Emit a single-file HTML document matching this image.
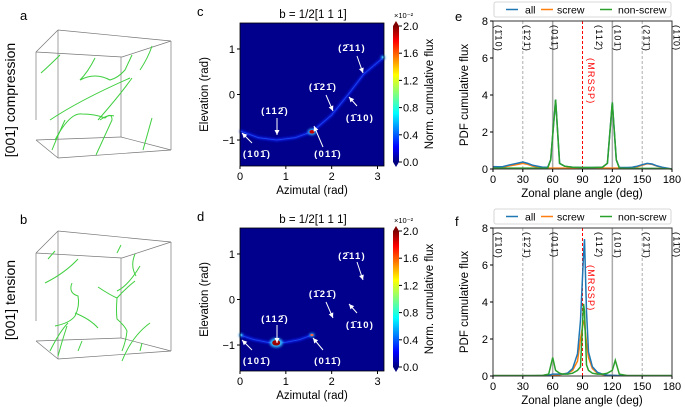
<!DOCTYPE html>
<html><head><meta charset="utf-8"><style>
body{margin:0;background:#fff;}
svg{display:block;font-family:"Liberation Sans","DejaVu Sans",sans-serif;}
</style></head><body>
<svg id="fig" width="685" height="407" viewBox="0 0 685 407" xmlns="http://www.w3.org/2000/svg">
<defs>
<linearGradient id="jet" x1="0" y1="1" x2="0" y2="0">
<stop offset="0" stop-color="#00007f"/><stop offset="0.11" stop-color="#0000ff"/><stop offset="0.36" stop-color="#00ffff"/><stop offset="0.5" stop-color="#7fff7f"/><stop offset="0.64" stop-color="#ffff00"/><stop offset="0.89" stop-color="#ff0000"/><stop offset="1" stop-color="#7f0000"/>
</linearGradient>
<filter id="glow" x="-20%" y="-20%" width="140%" height="140%"><feGaussianBlur stdDeviation="1"/></filter>
<filter id="glow2" x="-50%" y="-50%" width="200%" height="200%"><feGaussianBlur stdDeviation="1.2"/></filter>
</defs>
<g id="root"></g>
</svg>
<script>
// ---------- data ----------
const eAngles = [0,5,10,15,20,25,30,35,40,45,50,55,58,63,67,72,80,90,100,110,115,120,124,127,135,140,145,150,155,160,165,170,175,180];
const eScrew  = [0.1,0.1,0.1,0.15,0.2,0.25,0.3,0.25,0.15,0.1,0.05,0.05,0.05,0.05,0.05,0.05,0.05,0.05,0.05,0.05,0.05,0.05,0.05,0.05,0.05,0.08,0.12,0.2,0.28,0.25,0.15,0.08,0.03,0];
const eNon    = [0.05,0.05,0.05,0.05,0.05,0.05,0.05,0.05,0.05,0.05,0.05,0.05,0.5,3.75,0.3,0.15,0.1,0.08,0.08,0.1,0.3,3.6,0.5,0.05,0.03,0.03,0.03,0.03,0.03,0.03,0.03,0.02,0.02,0];
const eAll    = [0.13,0.12,0.13,0.2,0.26,0.32,0.38,0.3,0.2,0.15,0.1,0.1,0.5,3.75,0.3,0.15,0.1,0.08,0.08,0.1,0.3,3.6,0.5,0.08,0.08,0.1,0.15,0.23,0.3,0.27,0.17,0.1,0.05,0];
const fAngles = [0,10,20,30,40,50,56,60,63,67,70,75,80,85,88,91,92,94,96,100,105,110,115,120,123,127,135,145,155,165,180];
const fAll    = [0.02,0.02,0.02,0.02,0.02,0.02,0.05,0.1,0.1,0.1,0.1,0.15,0.4,1.2,3.0,6.5,7.4,3.5,1.3,0.5,0.2,0.1,0.05,0.03,0.03,0.02,0.02,0.02,0.02,0.02,0.02];
const fScrew  = [0.02,0.02,0.02,0.02,0.02,0.02,0.02,0.03,0.05,0.07,0.1,0.15,0.3,0.8,2.0,3.0,2.8,1.8,1.0,0.4,0.15,0.08,0.05,0.03,0.02,0.02,0.02,0.02,0.02,0.02,0.02];
const fNon    = [0.02,0.02,0.02,0.02,0.02,0.03,0.1,1.0,0.3,0.15,0.1,0.1,0.15,0.3,0.5,3.9,3.5,0.6,0.3,0.15,0.1,0.1,0.15,0.3,0.85,0.1,0.02,0.02,0.02,0.02,0.02];
const yTicks = [0,2,4,6,8];
const xTicksDeg = [0,30,60,90,120,150,180];
const cCurveAz = [0,0.4,0.8,1.2,1.57,2.0,2.36,2.7,3.14];
const cCurveEl = [-0.8,-0.95,-1.0,-0.95,-0.82,-0.45,0,0.45,0.82];
const dCurveAz = [0,0.3,0.6,0.79,1.0,1.3,1.57];
const dCurveEl = [-0.78,-0.88,-0.94,-0.95,-0.94,-0.88,-0.78];
const cbTicks = ["0.0","0.4","0.8","1.2","1.6","2.0"];
const azTicks = [0,1,2,3];
const elTicks = [-1,0,1];
// ---------- helpers ----------
const NS="http://www.w3.org/2000/svg";
const root=document.getElementById('root');
const BAR='\u0304';
function mk(tag,attrs,parent,text){const e=document.createElementNS(NS,tag);for(const k in attrs)e.setAttribute(k,attrs[k]);if(text!==undefined)e.textContent=text;(parent||root).appendChild(e);return e;}
function txt(x,y,s,size,parent,extra){const a=Object.assign({x:x,y:y,'font-size':size,fill:'#000'},extra||{});return mk('text',a,parent,s);}

// ---------- labels ----------
[['a',20,20],['b',20,224],['c',197,16],['d',197,221],['e',455,21],['f',455,226]].forEach(p=>{
  const t=txt(p[1],p[2],p[0],13);
  
  
});
{const t=txt(0,0,'[001] compression',14,null,{transform:'translate(15,100) rotate(-90)','text-anchor':'middle'});
}
{const t=txt(0,0,'[001] tension',14,null,{transform:'translate(15,300) rotate(-90)','text-anchor':'middle'});
}

// ---------- cubes ----------
function cube(dy,name,curves){
  const g=mk('g',{});
  
  
  const edges=[[58,30,171,41],[36,52,58,30],[58,30,58,158],[171,41,171,150],[36,52,36,120],[36,52,122,57],[122,57,171,41],[121,57,121,137],[36,140,58,158],[58,158,171,150],[36,140,121,137],[121,137,171,150]];
  edges.forEach(e=>mk('line',{x1:e[0],y1:e[1]+dy,x2:e[2],y2:e[3]+dy,stroke:'#777','stroke-width':0.7},g));
  curves.forEach(c=>mk('path',{d:c,transform:'translate(0,'+dy+')',fill:'none',stroke:'#3fcf3f','stroke-width':1},g));
}
cube(0,'cube-compression',['M41,73 Q50,65 60,55','M80,80 Q88,72 95,58','M80,80 Q95,72 110,80 Q118,78 125,70 L132,55','M140,70 Q148,58 152,46','M50,120 Q80,100 130,78','M98,120 Q120,95 132,78','M55,140 Q70,112 82,114 Q95,114 105,118 Q112,112 112,120 L96,155','M52,150 Q58,135 65,120','M143,150 L152,118','M100,120 Q108,114 114,116']);
cube(201,'cube-tension',['M48,58 L55,50','M45,82 Q65,72 78,58','M72,82 Q68,92 78,95 Q80,105 75,115 Q70,122 55,125','M75,112 Q90,118 98,127','M50,150 Q60,130 68,122','M58,155 Q62,140 67,125','M78,150 L82,140','M117,52 L121,44','M135,53 Q130,65 136,75','M98,86 Q110,94 117,97 Q116,110 117,118 Q125,125 127,130 Q126,140 122,150','M117,97 Q125,88 135,80','M117,90 Q128,85 140,65','M122,160 Q132,135 150,122','M140,150 L142,142']);

// ---------- heatmaps ----------
function heat(oy,prefix,curveAz,curveEl,spots,anns){
  const x0=240,x1=384,top=oy+23,bot=oy+166;
  const X=v=>x0+(v/Math.PI)*(x1-x0);
  const Y=v=>(top+bot)/2 - v*(bot-top)/Math.PI;
  const g=mk('g',{});
  
  
  mk('rect',{x:x0,y:top,width:x1-x0,height:bot-top,fill:'#00008c'},g);
  let d='';curveAz.forEach((a,i)=>{d+=(i?'L':'M')+X(a).toFixed(1)+','+Y(curveEl[i]).toFixed(1);});
  const c1=mk('path',{d:d,fill:'none',stroke:'#0a1ee0','stroke-width':3,filter:'url(#glow)'},g);
  
  
  mk('path',{d:d,fill:'none',stroke:'#2060ff','stroke-width':0.8,opacity:0.7},g);
  spots.forEach(s=>{
    mk('ellipse',{cx:X(s[0]),cy:Y(s[1]),rx:s[2]*1.6,ry:s[2]*1.2,fill:'#30c0ff',filter:'url(#glow2)'},g);
    const sp=mk('ellipse',{cx:X(s[0]),cy:Y(s[1]),rx:s[2],ry:s[2]*0.7,fill:s[3]},g);
    
    
  });
  anns.forEach(a=>{
    const t=txt(a[1],a[2],a[0],9.5,g,{fill:'#fff','text-anchor':'middle','letter-spacing':'1.2','font-weight':'bold'});
    
    
    mk('line',{x1:a[3],y1:a[4],x2:a[5],y2:a[6],stroke:'#fff','stroke-width':1},g);
    const ang=Math.atan2(a[6]-a[4],a[5]-a[3]);
    const hx=a[5],hy=a[6],L=5,W=2.5;
    const p1=[hx-L*Math.cos(ang)+W*Math.sin(ang),hy-L*Math.sin(ang)-W*Math.cos(ang)];
    const p2=[hx-L*Math.cos(ang)-W*Math.sin(ang),hy-L*Math.sin(ang)+W*Math.cos(ang)];
    mk('polygon',{points:hx+','+hy+' '+p1.join(',')+' '+p2.join(','),fill:'#fff'},g);
  });
  mk('rect',{x:x0,y:top,width:x1-x0,height:bot-top,fill:'none',stroke:'#000','stroke-width':0.8},g);
  azTicks.forEach(v=>{mk('line',{x1:X(v),y1:bot,x2:X(v),y2:bot+3,stroke:'#000'},g);txt(X(v),bot+14,String(v),11,g,{'text-anchor':'middle'});});
  elTicks.forEach(v=>{mk('line',{x1:x0-3,y1:Y(v),x2:x0,y2:Y(v),stroke:'#000'},g);txt(x0-5,Y(v)+4,v<0?'\u2212'+(-v):String(v),11,g,{'text-anchor':'end'});});
  txt(312,bot+28,'Azimutal (rad)',11.5,g,{'text-anchor':'middle'});
  txt(0,0,'Elevation (rad)',11.5,g,{'text-anchor':'middle',transform:'translate(208,'+((top+bot)/2)+') rotate(-90)'});
  txt(313,top-5,'b = 1/2[1 1 1]',11.5,g,{'text-anchor':'middle'});
  const cb=mk('g',{},g);
  
  
  const ct=oy+26,cbt=oy+162;
  mk('rect',{x:393,y:ct,width:6,height:cbt-ct,fill:'url(#jet)'},cb);
  mk('polygon',{points:'393,'+ct+' 399,'+ct+' 396,'+(ct-5),fill:'#7f0000'},cb);
  mk('polygon',{points:'393,'+cbt+' 399,'+cbt+' 396,'+(cbt+5),fill:'#00007f'},cb);
  cbTicks.forEach((s,i)=>{const y=cbt-i*(cbt-ct)/5;mk('line',{x1:399,y1:y,x2:402,y2:y,stroke:'#000'},cb);txt(403,y+4,s,11,cb);});
  txt(394,ct-8,'\u00d710\u207b\u00b2',7.5,cb);
  txt(0,0,'Norm. cumulative flux',11.5,cb,{'text-anchor':'middle',transform:'translate(433,'+((ct+cbt)/2)+') rotate(-90)'});
}
heat(0,'panel-c',cCurveAz,cCurveEl,[[1.57,-0.82,2.6,'#c00000'],[3.12,0.82,1.3,'#40c0ff']],[
 ['(2'+BAR+'11)',352,51,357,56,363,73],['(1'+BAR+'21'+BAR+')',323,90,326,95,333,111],['(1'+BAR+'10)',360,121,357,106,349,97],
 ['(112'+BAR+')',275,114,277,118,277,135],['(101'+BAR+')',257,157,252,143,242,133],['(011'+BAR+')',328,157,323,147,314,126]]);
heat(205,'panel-d',dCurveAz,dCurveEl,[[0.79,-0.95,4,'#a00000'],[1.57,-0.78,1.6,'#ff6040'],[0.02,-0.78,1.3,'#40c0ff']],[
 ['(2'+BAR+'11)',352,259,357,262,363,280],['(1'+BAR+'21'+BAR+')',323,297,326,302,333,318],['(1'+BAR+'10)',360,328,357,313,349,304],
 ['(112'+BAR+')',275,322,277,325,277,343],['(101'+BAR+')',257,364,252,350,242,340],['(011'+BAR+')',328,364,323,350,313,338]]);

// ---------- line plots ----------
function lineplot(prefix,top,bot,xs,all,screw,non){
  const x0=493,x1=672;
  const X=v=>x0+v/180*(x1-x0);
  const Y=v=>bot-v/8*(bot-top);
  const g=mk('g',{});
  
  
  const lg=mk('g',{},g);
  
  
  mk('rect',{x:494,y:top-19,width:177,height:15,rx:2,fill:'#fff',stroke:'#ccc','stroke-width':0.8},lg);
  [['all','#1f77b4',506,525],['screw','#ff7f0e',541,557],['non-screw','#2ca02c',600,618]].forEach(l=>{
    mk('line',{x1:l[2],y1:top-11.5,x2:l[2]+12,y2:top-11.5,stroke:l[1],'stroke-width':1.5},lg);
    const t=txt(l[3],top-7.5,l[0],10.5,lg);
    
    
  });
  [[30,'#999','3,2',0.8],[150,'#999','3,2',0.8],[60,'#aaa','',1.5],[120,'#aaa','',1.5],[90,'#f00','3,2',1]].forEach(r=>{
    const ln=mk('line',{x1:X(r[0]),y1:top,x2:X(r[0]),y2:bot,stroke:r[1],'stroke-width':r[3],'stroke-dasharray':r[2]},g);
    
    
  });
  // [label, angle position, color, y offset]
  const labs=[['(1'+BAR+'10)',6,'#000',4],['(1'+BAR+'21'+BAR+')',34.5,'#000',4],['(011'+BAR+')',62.5,'#000',4],['(MRSSP)',99,'#f00',37],['(112'+BAR+')',107,'#000',4],['(101'+BAR+')',125.5,'#000',4],['(21'+BAR+'1'+BAR+')',155,'#000',4],['(11'+BAR+'0)',185,'#000',4]];
  labs.forEach(l=>{const t=txt(0,0,l[0],9,g,{fill:l[2],transform:'translate('+(X(l[1])-3.5)+','+(top+l[3])+') rotate(90)','letter-spacing':'1.2'});
    });
  [[screw,'#ff7f0e','screw'],[all,'#1f77b4','all'],[non,'#2ca02c','non-screw']].forEach(s=>{
    let d='';xs.forEach((a,i)=>{d+=(i?'L':'M')+X(a).toFixed(1)+','+Y(s[0][i]).toFixed(1);});
    const p=mk('path',{d:d,fill:'none',stroke:s[1],'stroke-width':1.5},g);
    
    
  });
  mk('rect',{x:x0,y:top,width:x1-x0,height:bot-top,fill:'none',stroke:'#333','stroke-width':1},g);
  xTicksDeg.forEach(v=>{mk('line',{x1:X(v),y1:bot,x2:X(v),y2:bot+3,stroke:'#000'},g);txt(X(v),bot+14,String(v),11,g,{'text-anchor':'middle'});});
  yTicks.forEach(v=>{mk('line',{x1:x0-3,y1:Y(v),x2:x0,y2:Y(v),stroke:'#000'},g);txt(x0-5,Y(v)+4,String(v),11,g,{'text-anchor':'end'});});
  txt(582,bot+28,'Zonal plane angle (deg)',11.5,g,{'text-anchor':'middle'});
  txt(0,0,'PDF cumulative flux',11.5,g,{'text-anchor':'middle',transform:'translate(468,'+((top+bot)/2)+') rotate(-90)'});
}
lineplot('panel-e',21,169,eAngles,eAll,eScrew,eNon);
lineplot('panel-f',228,376,fAngles,fAll,fScrew,fNon);
</script>
</body></html>
